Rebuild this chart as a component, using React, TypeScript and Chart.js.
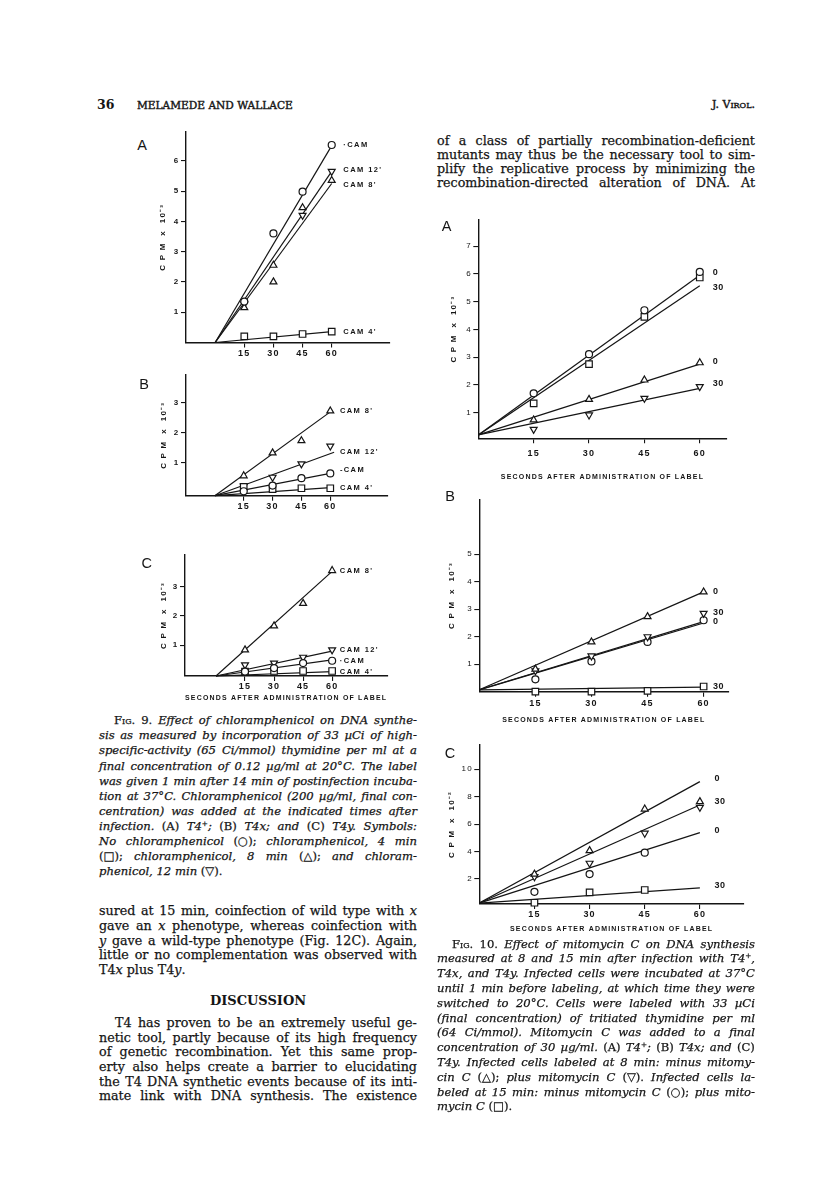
import React, { useEffect, useRef } from 'react';
import { Chart, registerables } from 'chart.js';

Chart.register(...registerables);

const INK = '#151515';
const SANS = '"Liberation Sans", Arial, sans-serif';
const SERIF = '"DejaVu Serif", serif';
const STROKE = '0.25px #151515';

// ---------------- DATA ----------------
const SECONDS = [15, 30, 45, 60];
const SECONDS3 = [15, 30, 45];
const FIT_X = 60;

// Fig 9A (T4+), CPM x 10^-3
const f9A_noCam = [1.35, 3.6, 4.98, 6.52];
const f9A_cam4 = [0.2, 0.2, 0.28, 0.36];
const f9A_cam8X = [15, 30, 30, 45, 60];
const f9A_cam8 = [1.15, 2.55, 2.0, 4.45, 5.35];
const f9A_cam12X = [15, 45, 60];
const f9A_cam12 = [1.27, 4.2, 5.65];
const f9A_fitEnd = [6.5, 0.36, 5.25, 5.65]; // ○ □ △ ▽
const f9A_labelText = ['·CAM', "CAM 12'", "CAM 8'", "CAM 4'"];
const f9A_labelY = [6.52, 5.69, 5.2, 0.36];

// Fig 9B (T4x)
const f9B_noCam = [0.03, 0.22, 0.47, 0.63];
const f9B_cam4 = [0.18, 0.1, 0.13, 0.13];
const f9B_cam8 = [0.55, 1.32, 1.73, 2.73];
const f9B_cam12 = [0.2, 0.5, 0.95, 1.55];
const f9B_fitEnd = [0.63, 0.15, 2.7, 1.34];
const f9B_fitEndX = [60, 60, 60, 62];
const f9B_labelText = ["CAM 8'", "CAM 12'", '-CAM', "CAM 4'"];
const f9B_labelY = [2.73, 1.34, 0.74, 0.13];

// Fig 9C (T4y)
const f9C_noCam = [0.1, 0.22, 0.39, 0.47];
const f9C_cam4 = [0.1, 0.12, 0.12, 0.12];
const f9C_cam8 = [0.84, 1.66, 2.43, 3.55];
const f9C_cam12 = [0.33, 0.39, 0.59, 0.84];
const f9C_fitEnd = [0.5, 0.1, 3.52, 0.8];
const f9C_labelText = ["CAM 8'", "CAM 12'", '·CAM', "CAM 4'"];
const f9C_labelY = [3.55, 0.84, 0.47, 0.1];

// Fig 10A (T4+), CPM x 10^-3
const f10A_min0 = [1.7, 3.11, 4.69, 6.07];   // ○
const f10A_plus30 = [1.34, 2.75, 4.45, 5.87]; // □
const f10A_min8 = [0.74, 1.48, 2.18, 2.8];   // △
const f10A_plus8 = [0.4, 0.92, 1.52, 1.94];  // ▽
const f10A_fitStart = 0.2;
const f10A_fitEnd = [5.95, 5.57, 2.75, 1.88];
const f10A_labelText = ['0', '30', '0', '30'];
const f10A_labelY = [6.04, 5.51, 2.84, 2.06];

// Fig 10B (T4x)
const f10B_min8 = [0.82, 1.81, 2.73, 3.63];
const f10B_plus8 = [0.76, 1.3, 2.0, 2.85];
const f10B_min0 = [0.45, 1.1, 1.81, 2.6];
const f10B_plus30 = [0.0, 0.0, 0.03, 0.19];
const f10B_fitStart = 0.07;
const f10B_fitEnd = [3.63, 2.55, 2.5, 0.17]; // △ ▽ ○ □
const f10B_labelText = ['0', '30', '0', '30'];
const f10B_labelY = [3.63, 2.88, 2.54, 0.19];

// Fig 10C (T4y), CPM x 10^-2
const f10C_min8 = [2.36, 4.07, 7.1, 7.64];
const f10C_plus8 = [2.17, 3.15, 5.34, 7.23];
const f10C_min0 = [1.07, 2.36, 3.92];
const f10C_plus30 = [0.27, 1.03, 1.2];
const f10C_fitStart = 0.25;
const f10C_fitEnd = [9.1, 7.4, 5.38, 1.35]; // △ ▽ ○ □
const f10C_labelText = ['0', '30', '0', '30'];
const f10C_labelY = [9.34, 7.64, 5.52, 1.56];

const X_TITLE = 'SECONDS AFTER ADMINISTRATION OF LABEL';
const Y_TITLE_3 = 'C P M  x  10⁻³';
const Y_TITLE_2 = 'C P M  x  10⁻²';

// ---------------- TEXT ----------------
const headerLeftNum = '36';
const headerAuthors = 'MELAMEDE AND WALLACE';
const rightTopLines = [
  'of a class of partially recombination-deficient',
  'mutants may thus be the necessary tool to sim-',
  'plify the replicative process by minimizing the',
  'recombination-directed alteration of DNA. At',
];
const fig9Caption = [
  '[Fig.] {9.} Effect of chloramphenicol on DNA synthe-',
  'sis as measured by incorporation of 33 µCi of high-',
  'specific-activity (65 Ci/mmol) thymidine per ml at a',
  'final concentration of 0.12 µg/ml at 20°C. The label',
  'was given 1 min after 14 min of postinfection incuba-',
  'tion at 37°C. Chloramphenicol (200 µg/ml, final con-',
  'centration) was added at the indicated times after',
  'infection. {(A)} T4^+; {(B)} T4x; and {(C)} T4y. Symbols:',
  'No chloramphenicol {(○);} chloramphenicol, 4 min',
  '{(□);} chloramphenicol, 8 min {(△);} and chloram-',
  'phenicol, 12 min {(▽).}',
];
const leftBodyLines = [
  'sured at 15 min, coinfection of wild type with {x}',
  'gave an {x} phenotype, whereas coinfection with',
  '{y} gave a wild-type phenotype (Fig. 12C). Again,',
  'little or no complementation was observed with',
  'T4{x} plus T4{y}.',
];
const discussionLines = [
  'T4 has proven to be an extremely useful ge-',
  'netic tool, partly because of its high frequency',
  'of genetic recombination. Yet this same prop-',
  'erty also helps create a barrier to elucidating',
  'the T4 DNA synthetic events because of its inti-',
  'mate link with DNA synthesis. The existence',
];
const fig10Caption = [
  '[Fig.] {10.} Effect of mitomycin C on DNA synthesis',
  'measured at 8 and 15 min after infection with T4^+,',
  'T4x, and T4y. Infected cells were incubated at 37°C',
  'until 1 min before labeling, at which time they were',
  'switched to 20°C. Cells were labeled with 33 µCi',
  '(final concentration) of tritiated thymidine per ml',
  '(64 Ci/mmol). Mitomycin C was added to a final',
  'concentration of 30 µg/ml. {(A)} T4^+; {(B)} T4x; and {(C)}',
  'T4y. Infected cells labeled at 8 min: minus mitomy-',
  'cin C {(△);} plus mitomycin C {(▽).} Infected cells la-',
  'beled at 15 min: minus mitomycin C {(○);} plus mito-',
  'mycin C {(□).}',
];

// ---------------- CHART SPECS ----------------
type Marker = 'circle' | 'rect' | 'triangle' | 'down';
interface Series { marker: Marker; xs: number[]; ys: number[]; fit: number[][] }
interface PanelSpec {
  area: { l: number; t: number; r: number; b: number };
  xr: number[]; yr: number[]; yTicks: number[];
  yTitle: string; xTitle?: string;
  yw: number; xh: number; xPad: number; yBold: boolean;
  series: Series[];
  labelText: string[]; labelY: number[]; labelX: number;
  labelFont: string; labelSpacing: string;
  lineWidth: number;
  letter: string; letterPos: number[];
}

const ser = (marker: Marker, xs: number[], ys: number[], y0: number, x1: number, y1: number): Series =>
  ({ marker, xs, ys, fit: [[0, y0], [x1, y1]] });

const FIG9_LABEL_FONT = `bold 7.5px ${SANS}`;
const FIG10_LABEL_FONT = `bold 9px ${SANS}`;

const panels: PanelSpec[] = [
  {
    area: { l: 186, t: 132, r: 390, b: 342.5 }, xr: [-15, 90], yr: [0, 6.95], yTicks: [1, 2, 3, 4, 5, 6],
    yTitle: Y_TITLE_3, yw: 27.8, xh: 22, xPad: 1.0, yBold: true,
    series: [
      ser('circle', SECONDS, f9A_noCam, 0, FIT_X, f9A_fitEnd[0]),
      ser('rect', SECONDS, f9A_cam4, 0, FIT_X, f9A_fitEnd[1]),
      ser('triangle', f9A_cam8X, f9A_cam8, 0, FIT_X, f9A_fitEnd[2]),
      ser('down', f9A_cam12X, f9A_cam12, 0, FIT_X, f9A_fitEnd[3]),
    ],
    labelText: f9A_labelText, labelY: f9A_labelY, labelX: 66,
    labelFont: FIG9_LABEL_FONT, labelSpacing: '1.4px', lineWidth: 1.2,
    letter: 'A', letterPos: [142, 145],
  },
  {
    area: { l: 186, t: 375, r: 388, b: 495.7 }, xr: [-15, 90], yr: [-0.12, 3.94], yTicks: [1, 2, 3],
    yTitle: Y_TITLE_3, yw: 27.5, xh: 22, xPad: 0.6, yBold: true,
    series: [
      ser('circle', SECONDS, f9B_noCam, -0.12, f9B_fitEndX[0], f9B_fitEnd[0]),
      ser('rect', SECONDS, f9B_cam4, -0.12, f9B_fitEndX[1], f9B_fitEnd[1]),
      ser('triangle', SECONDS, f9B_cam8, -0.12, f9B_fitEndX[2], f9B_fitEnd[2]),
      ser('down', SECONDS, f9B_cam12, -0.12, f9B_fitEndX[3], f9B_fitEnd[3]),
    ],
    labelText: f9B_labelText, labelY: f9B_labelY, labelX: 65,
    labelFont: FIG9_LABEL_FONT, labelSpacing: '1.4px', lineWidth: 1.2,
    letter: 'B', letterPos: [144, 384],
  },
  {
    area: { l: 185, t: 555, r: 387.3, b: 676 }, xr: [-16, 88.5], yr: [-0.05, 4.08], yTicks: [1, 2, 3],
    yTitle: Y_TITLE_3, xTitle: X_TITLE, yw: 26.5, xh: 26.5, xPad: 0, yBold: true,
    series: [
      ser('circle', SECONDS, f9C_noCam, -0.05, FIT_X, f9C_fitEnd[0]),
      ser('rect', SECONDS, f9C_cam4, -0.05, FIT_X, f9C_fitEnd[1]),
      ser('triangle', SECONDS, f9C_cam8, -0.05, FIT_X, f9C_fitEnd[2]),
      ser('down', SECONDS, f9C_cam12, -0.05, FIT_X, f9C_fitEnd[3]),
    ],
    labelText: f9C_labelText, labelY: f9C_labelY, labelX: 64,
    labelFont: FIG9_LABEL_FONT, labelSpacing: '1.4px', lineWidth: 1.2,
    letter: 'C', letterPos: [146.7, 563],
  },
  {
    area: { l: 478.3, t: 220, r: 726.7, b: 438.3 }, xr: [0, 67.3], yr: [0.08, 7.94], yTicks: [1, 2, 3, 4, 5, 6, 7],
    yTitle: Y_TITLE_3, xTitle: X_TITLE, yw: 29.8, xh: 43.2, xPad: 4.6, yBold: false,
    series: [
      ser('circle', SECONDS, f10A_min0, f10A_fitStart, FIT_X, f10A_fitEnd[0]),
      ser('rect', SECONDS, f10A_plus30, f10A_fitStart, FIT_X, f10A_fitEnd[1]),
      ser('triangle', SECONDS, f10A_min8, f10A_fitStart, FIT_X, f10A_fitEnd[2]),
      ser('down', SECONDS, f10A_plus8, f10A_fitStart, FIT_X, f10A_fitEnd[3]),
    ],
    labelText: f10A_labelText, labelY: f10A_labelY, labelX: 63.5,
    labelFont: FIG10_LABEL_FONT, labelSpacing: '0.5px', lineWidth: 1.25,
    letter: 'A', letterPos: [446.7, 226],
  },
  {
    area: { l: 479.3, t: 499.3, r: 728.3, b: 691.7 }, xr: [0, 66.6], yr: [0, 7.0], yTicks: [1, 2, 3, 4, 5],
    yTitle: Y_TITLE_3, xTitle: X_TITLE, yw: 32.4, xh: 32.5, xPad: 1.2, yBold: false,
    series: [
      ser('triangle', SECONDS, f10B_min8, f10B_fitStart, FIT_X, f10B_fitEnd[0]),
      ser('down', SECONDS, f10B_plus8, f10B_fitStart, FIT_X, f10B_fitEnd[1]),
      ser('circle', SECONDS, f10B_min0, f10B_fitStart, FIT_X, f10B_fitEnd[2]),
      ser('rect', SECONDS, f10B_plus30, f10B_fitStart, FIT_X, f10B_fitEnd[3]),
    ],
    labelText: f10B_labelText, labelY: f10B_labelY, labelX: 62.5,
    labelFont: FIG10_LABEL_FONT, labelSpacing: '0.5px', lineWidth: 1.25,
    letter: 'B', letterPos: [450, 496],
  },
  {
    area: { l: 479.3, t: 745, r: 744, b: 904 }, xr: [0, 72], yr: [0.18, 11.77], yTicks: [2, 4, 6, 8, 10],
    yTitle: Y_TITLE_2, xTitle: X_TITLE, yw: 32.4, xh: 29.2, xPad: 0, yBold: false,
    series: [
      ser('triangle', SECONDS, f10C_min8, f10C_fitStart, FIT_X, f10C_fitEnd[0]),
      ser('down', SECONDS, f10C_plus8, f10C_fitStart, FIT_X, f10C_fitEnd[1]),
      ser('circle', SECONDS3, f10C_min0, f10C_fitStart, FIT_X, f10C_fitEnd[2]),
      ser('rect', SECONDS3, f10C_plus30, f10C_fitStart, FIT_X, f10C_fitEnd[3]),
    ],
    labelText: f10C_labelText, labelY: f10C_labelY, labelX: 64,
    labelFont: FIG10_LABEL_FONT, labelSpacing: '0.5px', lineWidth: 1.25,
    letter: 'C', letterPos: [450, 753.3],
  },
];

// ---------------- PLUGIN ----------------
const seriesLabelPlugin = {
  id: 'seriesLabels',
  beforeDraw(chart: any) {
    chart.ctx.letterSpacing = '1.2px';
  },
  afterDatasetsDraw(chart: any, _args: any, opts: any) {
    const { ctx, scales } = chart;
    const texts: string[] = opts.texts || [];
    const ys: number[] = opts.ys || [];
    ctx.save();
    ctx.fillStyle = INK;
    ctx.font = opts.font;
    ctx.letterSpacing = opts.spacing;
    ctx.textAlign = 'left';
    ctx.textBaseline = 'middle';
    for (let i = 0; i < texts.length; i++) {
      ctx.fillText(texts[i], scales.x.getPixelForValue(opts.x), scales.y.getPixelForValue(ys[i]));
    }
    ctx.restore();
  },
};

const MARKER_R: Record<Marker, number> = { circle: 3.5, rect: 4.6, triangle: 4.0, down: 4.0 };

function Panel({ spec }: { spec: PanelSpec }) {
  const ref = useRef<HTMLCanvasElement>(null);
  const { area } = spec;
  const left = Math.floor(area.l - spec.yw - 4);
  const top = Math.floor(area.t - 10);
  const width = Math.ceil(area.r + 30 - left);
  const height = Math.ceil(area.b + spec.xh + 4 - top);
  const padL = area.l - spec.yw - left;
  const padT = area.t - top;
  const padR = width - (area.r - left);
  const padB = height - (area.b + spec.xh - top);

  useEffect(() => {
    const datasets: any[] = [];
    spec.series.forEach((s) => {
      datasets.push({
        data: s.fit.map(([x, y]) => ({ x, y })),
        showLine: true, pointRadius: 0, borderColor: INK, borderWidth: spec.lineWidth,
        fill: false, order: 2, clip: false,
      });
    });
    spec.series.forEach((s) => {
      datasets.push({
        data: s.xs.map((x, i) => ({ x, y: s.ys[i] })),
        showLine: false,
        pointStyle: s.marker === 'down' ? 'triangle' : s.marker,
        rotation: s.marker === 'down' ? 180 : 0,
        pointRadius: MARKER_R[s.marker],
        pointBorderWidth: 1.2,
        pointBorderColor: INK,
        pointBackgroundColor: '#ffffff',
        order: 1, clip: false,
      });
    });
    const chart = new Chart(ref.current as HTMLCanvasElement, {
      type: 'scatter',
      data: { datasets },
      plugins: [seriesLabelPlugin as any],
      options: {
        responsive: false,
        animation: false,
        devicePixelRatio: 1,
        events: [],
        layout: { padding: { left: padL, top: padT, right: padR, bottom: padB } },
        plugins: {
          legend: { display: false },
          tooltip: { enabled: false },
          seriesLabels: {
            texts: spec.labelText, ys: spec.labelY, x: spec.labelX,
            font: spec.labelFont, spacing: spec.labelSpacing,
          },
        } as any,
        scales: {
          x: {
            type: 'linear', position: 'bottom', min: spec.xr[0], max: spec.xr[1],
            afterBuildTicks: (sc: any) => { sc.ticks = SECONDS.map((v) => ({ value: v })); },
            afterFit: (sc: any) => { sc.height = spec.xh; },
            ticks: {
              color: INK, font: { family: SANS, size: 9, weight: 'bold' }, padding: spec.xPad,
              maxRotation: 0, autoSkip: false, callback: (v: any) => String(v),
            },
            grid: { drawOnChartArea: false, drawTicks: true, tickLength: 5, color: INK, lineWidth: 1.1 },
            border: { display: true, color: INK, width: 1.4 },
            title: {
              display: !!spec.xTitle, text: spec.xTitle || '', color: INK,
              font: { family: SANS, size: 7, weight: 'bold' }, padding: 0,
            },
          },
          y: {
            type: 'linear', position: 'left', min: spec.yr[0], max: spec.yr[1],
            afterBuildTicks: (sc: any) => { sc.ticks = spec.yTicks.map((v) => ({ value: v })); },
            afterFit: (sc: any) => { sc.width = spec.yw; },
            ticks: {
              color: INK, font: { family: SANS, size: 8, weight: spec.yBold ? 'bold' : 'normal' }, padding: 1.5,
              autoSkip: false, callback: (v: any) => String(v),
            },
            grid: { drawOnChartArea: false, drawTicks: true, tickLength: 5, color: INK, lineWidth: 1.1 },
            border: { display: true, color: INK, width: 1.4 },
            title: {
              display: true, text: spec.yTitle, color: INK,
              font: { family: SANS, size: 8, weight: 'bold' }, padding: 0,
            },
          },
        },
      } as any,
    });
    return () => chart.destroy();
  }, []);

  return (
    <>
      <canvas ref={ref} width={width} height={height}
        style={{ position: 'absolute', left, top, width, height }} />
      <div style={{
        position: 'absolute', left: spec.letterPos[0], top: spec.letterPos[1],
        transform: 'translate(-50%, -50%)', fontFamily: SANS, fontSize: 14.5, color: INK, lineHeight: 1,
      }}>{spec.letter}</div>
    </>
  );
}

// ---------------- TEXT RENDERING ----------------
function rich(s: string, baseItalic: boolean) {
  const out: any[] = [];
  const re = /(\[[^\]]*\]|\{[^}]*\}|\^\+)/g;
  let last = 0;
  let m: RegExpExecArray | null;
  let k = 0;
  while ((m = re.exec(s))) {
    if (m.index > last) out.push(<span key={k++}>{s.slice(last, m.index)}</span>);
    const t = m[0];
    if (t[0] === '[') {
      out.push(<span key={k++} style={{ fontVariant: 'small-caps', fontStyle: 'normal' }}>{t.slice(1, -1)}</span>);
    } else if (t[0] === '{') {
      out.push(<span key={k++} style={{ fontStyle: baseItalic ? 'normal' : 'italic' }}>{t.slice(1, -1)}</span>);
    } else {
      out.push(<sup key={k++} style={{ fontSize: '0.62em', lineHeight: 0, verticalAlign: '0.55em', fontStyle: 'normal' }}>+</sup>);
    }
    last = m.index + t.length;
  }
  if (last < s.length) out.push(<span key={k++}>{s.slice(last)}</span>);
  return out;
}

interface LineProps {
  x: number; w: number; cy: number; lh: number; size: number; text: string;
  justify: boolean; indent?: number; italic?: boolean;
}

function TextLine({ x, w, cy, lh, size, text, justify, indent = 0, italic = false }: LineProps) {
  const words = text.split(' ');
  const base: any = {
    position: 'absolute', left: x + indent, top: cy - lh / 2, width: w - indent, height: lh,
    lineHeight: `${lh}px`, fontSize: size, fontFamily: SERIF, fontStyle: italic ? 'italic' : 'normal',
    color: INK, whiteSpace: 'nowrap', WebkitTextStroke: STROKE,
  };
  if (justify) {
    return (
      <div style={{ ...base, display: 'flex', justifyContent: 'space-between' }}>
        {words.map((wd, i) => <span key={i}>{rich(wd, italic)}</span>)}
      </div>
    );
  }
  return (
    <div style={base}>
      {words.map((wd, i) => <React.Fragment key={i}>{i > 0 ? ' ' : ''}{rich(wd, italic)}</React.Fragment>)}
    </div>
  );
}

const LEFT_X = 99;
const RIGHT_X = 437;
const COL_W = 318;
const BODY_SIZE = 12.7;
const CAP_SIZE = 11.6;

export default function App() {
  return (
    <div style={{ position: 'absolute', left: 0, top: 0, width: 816, height: 1194, background: '#fff', overflow: 'hidden' }}>
      {/* header */}
      <div style={{ position: 'absolute', left: 97, top: 97, fontFamily: SERIF, fontWeight: 'bold', fontSize: 12.5, lineHeight: '16px', color: INK }}>{headerLeftNum}</div>
      <div style={{ position: 'absolute', left: 137, top: 97, fontFamily: SERIF, fontSize: 10.6, lineHeight: '16px', color: INK, WebkitTextStroke: '0.4px #151515' }}>{headerAuthors}</div>
      <div style={{ position: 'absolute', left: RIGHT_X, width: COL_W, top: 97, textAlign: 'right', fontFamily: SERIF, fontSize: 11, lineHeight: '16px', color: INK, WebkitTextStroke: '0.4px #151515' }}>
        J. V<span style={{ fontVariant: 'small-caps' }}>irol.</span>
      </div>

      {/* right column top text */}
      {rightTopLines.map((t, i) => (
        <TextLine key={'rt' + i} x={RIGHT_X} w={COL_W} cy={140.5 + i * 14} lh={14} size={BODY_SIZE} text={t} justify />
      ))}

      {/* charts */}
      {panels.map((p, i) => <Panel key={i} spec={p} />)}

      {/* Fig 9 caption */}
      {fig9Caption.map((t, i) => (
        <TextLine key={'c9' + i} x={LEFT_X} w={COL_W} cy={720.7 + i * 15.1} lh={15} size={CAP_SIZE}
          text={t} italic justify={i < fig9Caption.length - 1} indent={i === 0 ? 15 : 0} />
      ))}

      {/* left body */}
      {leftBodyLines.map((t, i) => (
        <TextLine key={'lb' + i} x={LEFT_X} w={COL_W} cy={911.7 + i * 14.7} lh={14.7} size={BODY_SIZE}
          text={t} justify={i < leftBodyLines.length - 1} />
      ))}
      <div style={{ position: 'absolute', left: LEFT_X, width: COL_W, top: 1001 - 8, height: 16, lineHeight: '16px', textAlign: 'center', fontFamily: SERIF, fontWeight: 'bold', fontSize: 13, color: INK }}>DISCUSSION</div>
      {discussionLines.map((t, i) => (
        <TextLine key={'dp' + i} x={LEFT_X} w={COL_W} cy={1023.3 + i * 14.7} lh={14.7} size={BODY_SIZE}
          text={t} justify indent={i === 0 ? 16 : 0} />
      ))}

      {/* Fig 10 caption */}
      {fig10Caption.map((t, i) => (
        <TextLine key={'c10' + i} x={RIGHT_X} w={COL_W} cy={944 + i * 14.8} lh={14.8} size={CAP_SIZE}
          text={t} italic justify={i < fig10Caption.length - 1} indent={i === 0 ? 15 : 0} />
      ))}
    </div>
  );
}
